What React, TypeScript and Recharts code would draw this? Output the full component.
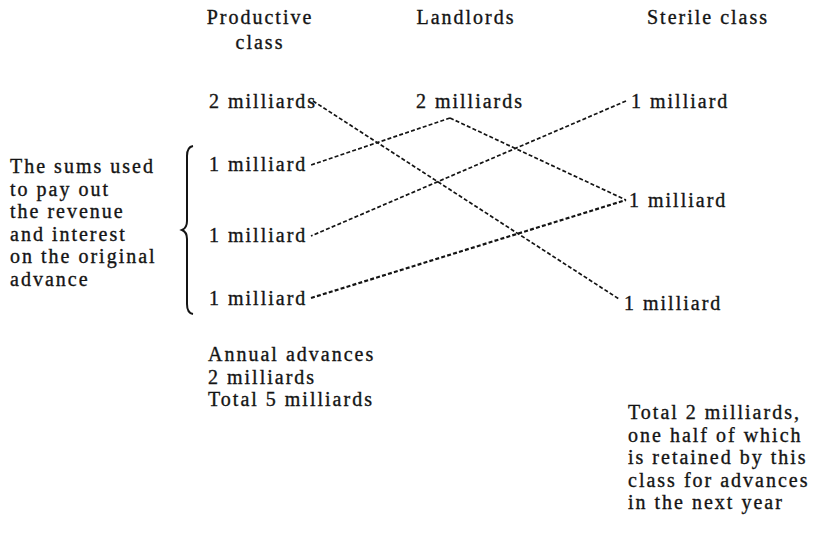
import { ComposedChart, Line, Scatter, XAxis, YAxis } from "recharts";

const W = 821;
const H = 534;

// column heads and the sums in each class (milliards of livres)
const PRODUCTIVE_HEAD = ["Productive", "class"];
const LANDLORD_HEAD = ["Landlords"];
const STERILE_HEAD = ["Sterile class"];

const PRODUCTIVE_SUMS = ["2 milliards", "1 milliard", "1 milliard", "1 milliard"];
const LANDLORD_SUMS = ["2 milliards"];
const STERILE_SUMS = ["1 milliard", "1 milliard", "1 milliard"];

const LEFT_NOTE = [
  "The sums used",
  "to pay out",
  "the revenue",
  "and interest",
  "on the original",
  "advance",
];
const PRODUCTIVE_TOTAL = ["Annual advances", "2 milliards", "Total 5 milliards"];
const STERILE_TOTAL = [
  "Total 2 milliards,",
  "one half of which",
  "is retained by this",
  "class for advances",
  "in the next year",
];

// money flows: from node -> to node
const FLOWS: [string, string][] = [
  ["p0", "s2"],
  ["l0", "p1"],
  ["l0", "s1"],
  ["s0", "p2"],
  ["p3", "s1"],
];

// layout (chart units): where each text sits and where its dashed line attaches
const NODE_LAYOUT: Record<string, { x: number; y: number; ax: number; ay: number; anchor: string }> = {
  p0: { x: 209, y: 101, ax: 313, ay: 101, anchor: "start" },
  p1: { x: 209, y: 164, ax: 311, ay: 165, anchor: "start" },
  p2: { x: 209, y: 235, ax: 311, ay: 236, anchor: "start" },
  p3: { x: 209, y: 298, ax: 311, ay: 298, anchor: "start" },
  l0: { x: 470, y: 101, ax: 450, ay: 118, anchor: "middle" },
  s0: { x: 631, y: 101, ax: 626, ay: 101, anchor: "start" },
  s1: { x: 629, y: 200, ax: 626, ay: 200, anchor: "start" },
  s2: { x: 624, y: 303, ax: 619, ay: 299, anchor: "start" },
};

const FONT = "'Liberation Serif', 'Times New Roman', serif";
const INK = "#141414";

type TextPoint = { x: number; y: number; text: string; anchor: string };

function block(lines: string[], x: number, y0: number, step: number, anchor = "start"): TextPoint[] {
  return lines.map((text, i) => ({ x, y: y0 + i * step, text, anchor }));
}

function nodeTexts(): TextPoint[] {
  const ids = [
    ...PRODUCTIVE_SUMS.map((t, i) => [`p${i}`, t]),
    ...LANDLORD_SUMS.map((t, i) => [`l${i}`, t]),
    ...STERILE_SUMS.map((t, i) => [`s${i}`, t]),
  ];
  return ids.map(([id, text]) => {
    const n = NODE_LAYOUT[id];
    return { x: n.x, y: n.y, text, anchor: n.anchor };
  });
}

const TEXTS: TextPoint[] = [
  ...block(PRODUCTIVE_HEAD, 260, 17, 25, "middle"),
  ...block(LANDLORD_HEAD, 466, 17, 25, "middle"),
  ...block(STERILE_HEAD, 708, 17, 25, "middle"),
  ...nodeTexts(),
  ...block(LEFT_NOTE, 10, 166, 22.5),
  ...block(PRODUCTIVE_TOTAL, 208, 354, 22.5),
  ...block(STERILE_TOTAL, 628, 412, 22.5),
];

const TextShape = (props: any) => {
  const { cx, cy, payload } = props;
  return (
    <text
      x={cx}
      y={cy}
      dy="0.35em"
      textAnchor={payload.anchor}
      fontFamily={FONT}
      fontSize={20}
      letterSpacing={2}
      fill={INK}
      stroke={INK}
      strokeWidth={0.35}
    >
      {payload.text}
    </text>
  );
};

// curly brace, tip pointing left
const BraceShape = (props: any) => {
  const { cx, cy } = props;
  const h = 84;
  const d = `M ${cx + 11} ${cy - h}
    Q ${cx + 5} ${cy - h + 1} ${cx + 5} ${cy - h + 10}
    L ${cx + 5} ${cy - 9}
    Q ${cx + 5} ${cy - 2} ${cx} ${cy}
    Q ${cx + 5} ${cy + 2} ${cx + 5} ${cy + 9}
    L ${cx + 5} ${cy + h - 10}
    Q ${cx + 5} ${cy + h - 1} ${cx + 11} ${cy + h}`;
  return <path d={d} fill="none" stroke={INK} strokeWidth={2} />;
};

const BRACE = [{ x: 182, y: 230 }];

export default function App() {
  return (
    <div style={{ width: W, height: H, background: "#fff" }}>
      <style>{"body{margin:0}"}</style>
      <ComposedChart width={W} height={H} margin={{ top: 0, right: 0, bottom: 0, left: 0 }}>
        <XAxis type="number" dataKey="x" domain={[0, W]} hide />
        <YAxis type="number" dataKey="y" domain={[0, H]} reversed hide />
        {FLOWS.map(([a, b], i) => {
          const from = NODE_LAYOUT[a];
          const to = NODE_LAYOUT[b];
          return (
            <Line
              key={`flow-${i}`}
              data={[
                { x: from.ax, y: from.ay },
                { x: to.ax, y: to.ay },
              ]}
              dataKey="y"
              type="linear"
              stroke={INK}
              strokeWidth={i === 4 ? 2.2 : 1.7}
              strokeDasharray="4 2.2"
              dot={false}
              activeDot={false}
              isAnimationActive={false}
            />
          );
        })}
        <Scatter data={BRACE} shape={BraceShape} isAnimationActive={false} />
        <Scatter data={TEXTS} shape={TextShape} isAnimationActive={false} />
      </ComposedChart>
    </div>
  );
}
